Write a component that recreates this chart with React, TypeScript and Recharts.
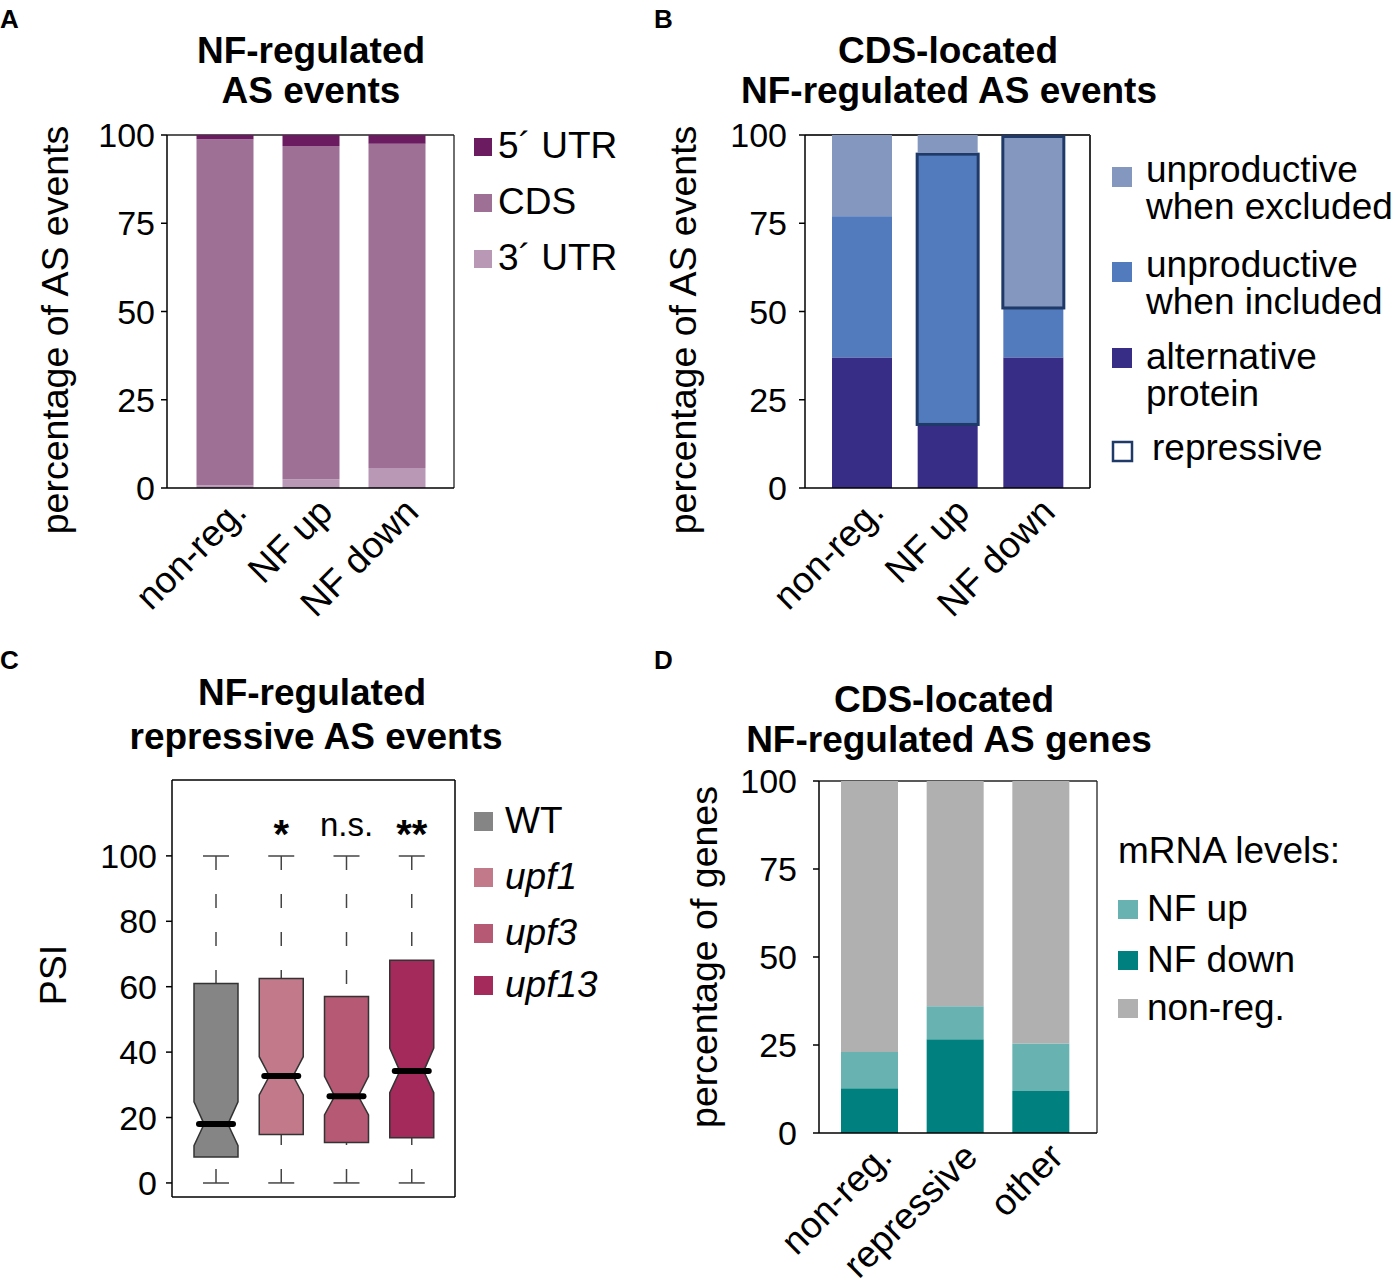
import React from "react";
import { Bar, BarChart, CartesianGrid, XAxis, YAxis } from "recharts";

const FONT = '"Liberation Sans", Arial, Helvetica, sans-serif';

// ---- A: NF-regulated AS events (percent)
const groupsA = ["non-reg.", "NF up", "NF down"];
const utr5A = [1.2, 3.1, 2.5];
const cdsA = [98.0, 94.4, 91.8];
const utr3A = [0.8, 2.5, 5.7];

// ---- B: CDS-located NF-regulated AS events (percent)
const groupsB = ["non-reg.", "NF up", "NF down"];
const altProteinB = [37, 18, 37];
const unprodInclB = [40, 77, 14];
const unprodExclB = [23, 5, 49];
const repressiveB = ["", "incl", "excl"];

// ---- C: PSI of NF-regulated repressive AS events
const genotypesC = ["WT", "upf1", "upf3", "upf13"];
const whiskerLowC = [0, 0, 0, 0];
const whiskerHighC = [100, 100, 100, 100];
const q1C = [7.9, 14.8, 12.4, 13.8];
const notchLowC = [11.4, 26.9, 20.8, 27.6];
const medianC = [18, 32.7, 26.5, 34.2];
const notchHighC = [24.8, 38.6, 32.6, 41.2];
const q3C = [61, 62.5, 57, 68.1];
const signifC = ["", "*", "n.s.", "**"];

// ---- D: CDS-located NF-regulated AS genes (percent)
const groupsD = ["non-reg.", "repressive", "other"];
const nfDownD = [12.7, 26.6, 11.9];
const nfUpD = [10.3, 9.4, 13.5];
const nonRegD = [77, 64, 74.6];

const pctTicks = [0, 25, 50, 75, 100];
const psiTicks = [0, 20, 40, 60, 80, 100];
const psiDomain = [-4.3, 123.2];

const COL = {
  utr5: "#6b1b5f",
  cds: "#9e7096",
  utr3: "#b998b6",
  excl: "#8497bf",
  incl: "#527bbd",
  alt: "#382d86",
  repr: "#1f3a68",
  nfUp: "#68b3b1",
  nfDown: "#00817f",
  nonReg: "#b0b0b0",
};
const colorsC = ["#858585", "#c27a8b", "#b65974", "#a32a5a"];

const dataA = groupsA.map((g, i) => ({ group: g, utr5: utr5A[i], cds: cdsA[i], utr3: utr3A[i] }));
const dataB = groupsB.map((g, i) => ({
  group: g,
  alt: altProteinB[i],
  incl: unprodInclB[i],
  excl: unprodExclB[i],
  repressive: repressiveB[i],
}));
const dataC = genotypesC.map((g, i) => ({
  genotype: g,
  range: [whiskerLowC[i], whiskerHighC[i]],
  q1: q1C[i],
  notchLow: notchLowC[i],
  median: medianC[i],
  notchHigh: notchHighC[i],
  q3: q3C[i],
  signif: signifC[i],
}));
const dataD = groupsD.map((g, i) => ({ group: g, nfDown: nfDownD[i], nfUp: nfUpD[i], nonReg: nonRegD[i] }));

const yTick = { fontSize: 34, fill: "#000", fontFamily: FONT };
const axisStroke = { stroke: "#000", strokeWidth: 1.5 };

// edges of the plot box, drawn by the grid
const topEdge = ({ offset }: any) => [offset.top];
const topBottomEdges = ({ offset }: any) => [offset.top, offset.top + offset.height];
const rightEdge = ({ offset }: any) => [offset.left + offset.width];

function RotatedTick(props: any) {
  const { x, y, payload } = props;
  const tx = x + 24;
  const ty = y + 24;
  return (
    <text
      x={tx}
      y={ty}
      transform={`rotate(-45, ${tx}, ${ty})`}
      textAnchor="end"
      fontSize={37}
      fontFamily={FONT}
      fill="#000"
    >
      {payload.value}
    </text>
  );
}

const makeShapeB = (key: string, color: string) => (props: any) => {
  const { x, y, width, height, payload } = props;
  const outlined = payload && payload.repressive === key;
  return (
    <g>
      <rect x={x} y={y} width={width} height={height} fill={color} />
      {outlined && (
        <rect
          x={x - 0.5}
          y={y + 1.5}
          width={width + 1}
          height={height - 1.5}
          fill="none"
          stroke={COL.repr}
          strokeWidth={3}
        />
      )}
    </g>
  );
};

function BoxShape(props: any) {
  const { x, y, width, height, payload, index } = props;
  const top = Math.min(y, y + height);
  const bot = Math.max(y, y + height);
  const lo = payload.range[0];
  const hi = payload.range[1];
  const py = (v: number) => bot - ((v - lo) / (hi - lo)) * (bot - top);
  const cx = x + width / 2;
  const x0 = x;
  const x1 = x + width;
  const inset = width * 0.23;
  const cap = 13;
  const yq1 = py(payload.q1);
  const yq3 = py(payload.q3);
  const ymed = py(payload.median);
  const ynl = py(payload.notchLow);
  const ynh = py(payload.notchHigh);
  const pts = [
    [x0, yq3],
    [x1, yq3],
    [x1, ynh],
    [x1 - inset, ymed],
    [x1, ynl],
    [x1, yq1],
    [x0, yq1],
    [x0, ynl],
    [x0 + inset, ymed],
    [x0, ynh],
  ]
    .map((p) => p.join(","))
    .join(" ");
  const wc = "#444";
  const stars = /^\*+$/.test(payload.signif || "");
  return (
    <g>
      <line x1={cx - cap} x2={cx + cap} y1={top} y2={top} stroke={wc} strokeWidth={1.5} />
      <line x1={cx} x2={cx} y1={top} y2={yq3} stroke={wc} strokeWidth={1.5} strokeDasharray="14 24" />
      <line x1={cx - cap} x2={cx + cap} y1={bot} y2={bot} stroke={wc} strokeWidth={1.5} />
      <line x1={cx} x2={cx} y1={bot} y2={yq1} stroke={wc} strokeWidth={1.5} strokeDasharray="14 24" />
      <polygon points={pts} fill={colorsC[index]} stroke="#333" strokeWidth={1.5} />
      <line
        x1={x0 + 5}
        x2={x1 - 5}
        y1={ymed}
        y2={ymed}
        stroke="#000"
        strokeWidth={6}
        strokeLinecap="round"
      />
      {payload.signif && (
        <text
          x={cx}
          y={stars ? top - 8 : top - 20}
          textAnchor="middle"
          fontSize={stars ? 40 : 33}
          fontWeight={stars ? 700 : 400}
          fontFamily={FONT}
          fill="#000"
        >
          {payload.signif}
        </text>
      )}
    </g>
  );
}

function PanelA() {
  return (
    <div style={{ position: "absolute", left: 0, top: 0 }}>
      <BarChart
        width={660}
        height={640}
        data={dataA}
        margin={{ top: 135, right: 206, bottom: 32, left: 67 }}
        style={{ fontFamily: FONT, overflow: "visible" }}
      >
        <CartesianGrid
          stroke="#222"
          strokeWidth={1.3}
          horizontalCoordinatesGenerator={topEdge}
          verticalCoordinatesGenerator={rightEdge}
        />
        <XAxis
          dataKey="group"
          tickLine={false}
          tickSize={0}
          height={120}
          interval={0}
          padding={{ left: 14.5, right: 14.5 }}
          axisLine={axisStroke}
          tick={<RotatedTick />}
        />
        <YAxis
          type="number"
          domain={[0, 100]}
          ticks={pctTicks}
          width={100}
          tickSize={6}
          tickMargin={6}
          axisLine={axisStroke}
          tickLine={axisStroke}
          tick={yTick}
        />
        <Bar dataKey="utr3" stackId="s" fill={COL.utr3} barSize={57} isAnimationActive={false} />
        <Bar dataKey="cds" stackId="s" fill={COL.cds} barSize={57} isAnimationActive={false} />
        <Bar dataKey="utr5" stackId="s" fill={COL.utr5} barSize={57} isAnimationActive={false} />
      </BarChart>
    </div>
  );
}

function PanelB() {
  return (
    <div style={{ position: "absolute", left: 660, top: 0 }}>
      <BarChart
        width={735}
        height={640}
        data={dataB}
        margin={{ top: 135, right: 735 - 430, bottom: 32, left: 45 }}
        style={{ fontFamily: FONT, overflow: "visible" }}
      >
        <CartesianGrid
          stroke="#333"
          strokeWidth={2}
          horizontalCoordinatesGenerator={topEdge}
          verticalCoordinatesGenerator={rightEdge}
        />
        <XAxis
          dataKey="group"
          tickLine={false}
          tickSize={0}
          height={120}
          interval={0}
          padding={{ left: 14, right: 14 }}
          axisLine={axisStroke}
          tick={<RotatedTick />}
        />
        <YAxis
          type="number"
          domain={[0, 100]}
          ticks={pctTicks}
          width={100}
          tickSize={6}
          tickMargin={12}
          axisLine={axisStroke}
          tickLine={axisStroke}
          tick={yTick}
        />
        <Bar dataKey="alt" stackId="s" barSize={60} shape={makeShapeB("alt", COL.alt)} isAnimationActive={false} />
        <Bar dataKey="incl" stackId="s" barSize={60} shape={makeShapeB("incl", COL.incl)} isAnimationActive={false} />
        <Bar dataKey="excl" stackId="s" barSize={60} shape={makeShapeB("excl", COL.excl)} isAnimationActive={false} />
      </BarChart>
    </div>
  );
}

function PanelC() {
  return (
    <div style={{ position: "absolute", left: 0, top: 640 }}>
      <BarChart
        width={660}
        height={646}
        data={dataC}
        margin={{ top: 140, right: 205, bottom: 89, left: 72 }}
        style={{ fontFamily: FONT, overflow: "visible" }}
      >
        <CartesianGrid
          stroke="#000"
          strokeWidth={1.5}
          horizontalCoordinatesGenerator={topBottomEdges}
          verticalCoordinatesGenerator={rightEdge}
        />
        <XAxis
          dataKey="genotype"
          tick={false}
          tickLine={false}
          height={0}
          padding={{ left: 11, right: 11 }}
          axisLine={axisStroke}
        />
        <YAxis
          type="number"
          domain={psiDomain}
          allowDataOverflow
          ticks={psiTicks}
          width={100}
          tickSize={6}
          tickMargin={9}
          axisLine={axisStroke}
          tickLine={axisStroke}
          tick={yTick}
        />
        <Bar dataKey="range" barSize={44} shape={<BoxShape />} isAnimationActive={false} />
      </BarChart>
    </div>
  );
}

function PanelD() {
  return (
    <div style={{ position: "absolute", left: 660, top: 640 }}>
      <BarChart
        width={735}
        height={646}
        data={dataD}
        margin={{ top: 141, right: 298, bottom: 33, left: 59 }}
        style={{ fontFamily: FONT, overflow: "visible" }}
      >
        <CartesianGrid
          stroke="#222"
          strokeWidth={1.3}
          horizontalCoordinatesGenerator={topEdge}
          verticalCoordinatesGenerator={rightEdge}
        />
        <XAxis
          dataKey="group"
          tickLine={false}
          tickSize={0}
          height={120}
          interval={0}
          padding={{ left: 8, right: 13 }}
          axisLine={axisStroke}
          tick={<RotatedTick />}
        />
        <YAxis
          type="number"
          domain={[0, 100]}
          ticks={pctTicks}
          width={100}
          tickSize={6}
          tickMargin={16}
          axisLine={axisStroke}
          tickLine={axisStroke}
          tick={yTick}
        />
        <Bar dataKey="nfDown" stackId="s" fill={COL.nfDown} barSize={57} isAnimationActive={false} />
        <Bar dataKey="nfUp" stackId="s" fill={COL.nfUp} barSize={57} isAnimationActive={false} />
        <Bar dataKey="nonReg" stackId="s" fill={COL.nonReg} barSize={57} isAnimationActive={false} />
      </BarChart>
    </div>
  );
}

// legends, titles, axis titles and panel letters
const legendA = [
  { label: "5´ UTR", color: COL.utr5 },
  { label: "CDS", color: COL.cds },
  { label: "3´ UTR", color: COL.utr3 },
];
const legendB = [
  { lines: ["unproductive", "when excluded"], color: COL.excl },
  { lines: ["unproductive", "when included"], color: COL.incl },
  { lines: ["alternative", "protein"], color: COL.alt },
];
const legendD = [
  { label: "NF up", color: COL.nfUp },
  { label: "NF down", color: COL.nfDown },
  { label: "non-reg.", color: COL.nonReg },
];

function Annotations() {
  const t = { fontFamily: FONT, fill: "#000" };
  const title = { ...t, fontSize: 37, fontWeight: 700, textAnchor: "middle" as const };
  const legend = { ...t, fontSize: 37 };
  const letter = { ...t, fontSize: 26, fontWeight: 700 };
  const axisTitle = (x: number, y: number, text: string) => (
    <text x={x} y={y} transform={`rotate(-90, ${x}, ${y})`} textAnchor="middle" fontSize={37.5} {...t}>
      {text}
    </text>
  );
  return (
    <svg
      width={1395}
      height={1286}
      style={{ position: "absolute", left: 0, top: 0, pointerEvents: "none" }}
    >
      {/* panel letters */}
      <text x={0} y={28} {...letter}>A</text>
      <text x={654} y={28} {...letter}>B</text>
      <text x={0} y={669} {...letter}>C</text>
      <text x={654} y={669} {...letter}>D</text>

      {/* titles */}
      <text x={311} y={63} {...title}>NF-regulated</text>
      <text x={311} y={103} {...title}>AS events</text>
      <text x={948} y={63} {...title}>CDS-located</text>
      <text x={949} y={103} {...title}>NF-regulated AS events</text>
      <text x={312} y={705} {...title}>NF-regulated</text>
      <text x={316} y={749} {...title}>repressive AS events</text>
      <text x={944} y={712} {...title}>CDS-located</text>
      <text x={949} y={752} {...title}>NF-regulated AS genes</text>

      {/* axis titles */}
      {axisTitle(68, 330, "percentage of AS events")}
      {axisTitle(696, 330, "percentage of AS events")}
      {axisTitle(66, 975, "PSI")}
      {axisTitle(717, 957, "percentage of genes")}

      {/* legend A */}
      {legendA.map((d, i) => (
        <g key={d.label}>
          <rect x={474} y={138 + i * 56} width={18} height={18} fill={d.color} />
          <text x={498} y={158 + i * 56} {...legend}>{d.label}</text>
        </g>
      ))}

      {/* legend B */}
      {legendB.map((d, i) => {
        const tops = [167, 262, 348];
        const base = [182, 277, 369];
        return (
          <g key={i}>
            <rect x={1112} y={tops[i]} width={20} height={20} fill={d.color} />
            <text x={1146} y={base[i]} {...legend}>{d.lines[0]}</text>
            <text x={1146} y={base[i] + 37} {...legend}>{d.lines[1]}</text>
          </g>
        );
      })}
      <rect x={1113} y={442} width={19} height={19} fill="none" stroke={COL.repr} strokeWidth={2.5} />
      <text x={1152} y={460} {...legend}>repressive</text>

      {/* legend C */}
      {genotypesC.map((g, i) => {
        const base = [833, 889, 945, 997][i];
        return (
          <g key={g}>
            <rect x={474} y={base - 21} width={19} height={19} fill={colorsC[i]} />
            <text x={505} y={base} fontStyle={i === 0 ? "normal" : "italic"} {...legend}>{g}</text>
          </g>
        );
      })}

      {/* legend D */}
      <text x={1118} y={863} {...legend}>mRNA levels:</text>
      {legendD.map((d, i) => {
        const base = [921, 972, 1020][i];
        return (
          <g key={d.label}>
            <rect x={1118} y={base - 21} width={20} height={19} fill={d.color} />
            <text x={1147} y={base} {...legend}>{d.label}</text>
          </g>
        );
      })}
    </svg>
  );
}

export default function App() {
  return (
    <div
      style={{
        position: "absolute",
        left: 0,
        top: 0,
        width: 1395,
        height: 1286,
        background: "#fff",
        fontFamily: FONT,
        overflow: "hidden",
      }}
    >
      <PanelA />
      <PanelB />
      <PanelC />
      <PanelD />
      <Annotations />
    </div>
  );
}
